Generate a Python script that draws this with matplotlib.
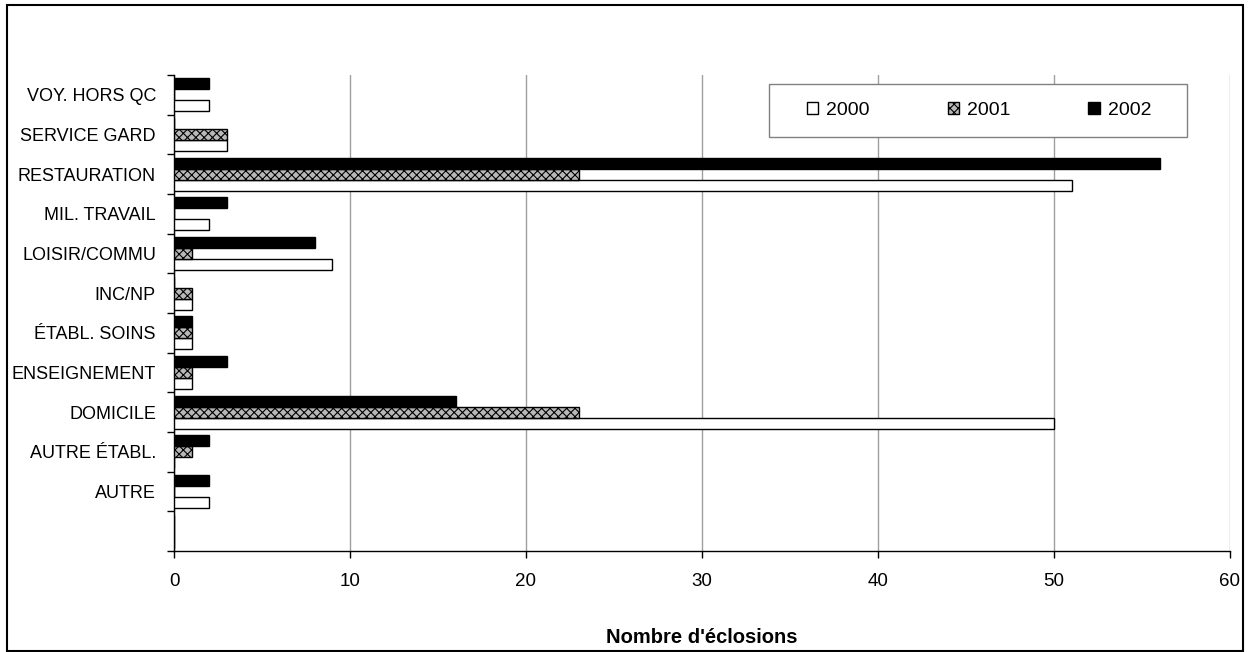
import matplotlib
matplotlib.use("Agg")
import matplotlib.pyplot as plt
from matplotlib.patches import Rectangle
import numpy as np

plt.rcParams['font.family'] = ['Liberation Sans', 'DejaVu Sans']
plt.rcParams['hatch.linewidth'] = 0.8

# Categories from bottom to top (first slot is empty in the original)
categories = ["", "AUTRE", "AUTRE ÉTABL.", "DOMICILE", "ENSEIGNEMENT", "ÉTABL. SOINS",
              "INC/NP", "LOISIR/COMMU", "MIL. TRAVAIL", "RESTAURATION",
              "SERVICE GARD", "VOY. HORS QC"]
v2000 = [0, 2, 0, 50, 1, 1, 1, 9, 2, 51, 3, 2]
v2001 = [0, 0, 1, 23, 1, 1, 1, 1, 0, 23, 3, 0]
v2002 = [0, 2, 2, 16, 3, 1, 0, 8, 3, 56, 0, 2]
years = ["2000", "2001", "2002"]
xticks = [0, 10, 20, 30, 40, 50, 60]

fig = plt.figure(figsize=(12.5, 6.52), dpi=100)
ax = fig.add_axes([174/1250, 1-551/652, (1230-174)/1250, (551-75)/652])

y = np.arange(len(categories))
h = 0.28
ax.barh(y - h, v2000, height=h, color='white', edgecolor='black', linewidth=1.0, label=years[0], zorder=3)
ax.barh(y, v2001, height=h, color='#b8b8b8', edgecolor='black', linewidth=1.0, hatch='xxxx', label=years[1], zorder=3)
ax.barh(y + h, v2002, height=h, color='black', edgecolor='black', linewidth=1.0, label=years[2], zorder=3)

ax.set_xlim(0, 60)
ax.set_ylim(-0.5, len(categories) - 0.5)
ax.set_xticks(xticks)
ax.set_xticklabels([str(t) for t in xticks], fontsize=13.5)
ax.set_yticks(y)
ax.set_yticklabels(categories, fontsize=13)
ax.tick_params(axis='y', which='major', length=0, pad=13)
ax.set_yticks(np.arange(-0.5, len(categories), 1.0), minor=True)
ax.tick_params(axis='y', which='minor', length=5, width=1, direction='out')
ax.tick_params(axis='x', which='major', length=5, width=1, direction='out', pad=11)

ax.grid(axis='x', color='#a0a0a0', linewidth=1, zorder=0)
for s in ['top', 'right']:
    ax.spines[s].set_visible(False)
ax.spines['left'].set_linewidth(1)
ax.spines['bottom'].set_linewidth(1)

ax.set_xlabel("Nombre d'éclosions", fontsize=14.5, fontweight='bold', labelpad=27)

# legend box (frame drawn separately)
bx0, bx1, by0, by1 = 769, 1187, 84, 137
ax.add_patch(Rectangle(((bx0-174)/1056*60, 11.5 - (by1-75)/476*12), (bx1-bx0)/1056*60,
                       (by1-by0)/476*12, facecolor='white', edgecolor='#808080',
                       linewidth=1, zorder=4))
leg = ax.legend(loc='center', bbox_to_anchor=((979-174)/1056, (551-110.5)/476),
                ncol=3, fontsize=14, frameon=False,
                handlelength=0.6, handleheight=0.6, columnspacing=4.0,
                borderpad=0, handletextpad=0.4, borderaxespad=0)
leg.set_zorder(5)

fig.patches.append(Rectangle((7/1250, 1/652), (1243-7)/1250, (647-1)/652,
                             transform=fig.transFigure, fill=False,
                             edgecolor='black', linewidth=1.5))

fig.savefig("out.png", dpi=100)
